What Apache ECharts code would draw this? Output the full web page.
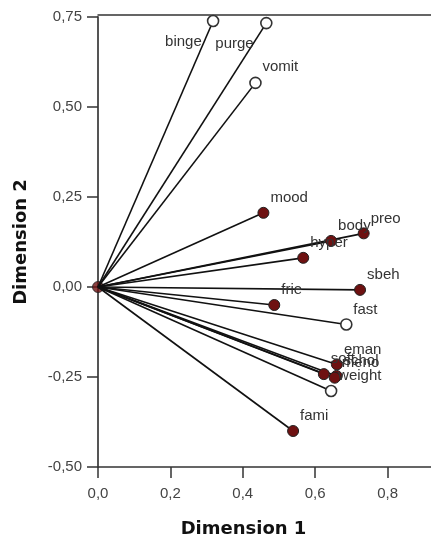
<!DOCTYPE html>
<html>
<head>
<meta charset="utf-8">
<script src="https://cdn.jsdelivr.net/npm/echarts@6/dist/echarts.min.js"></script>
<style>
html,body{margin:0;padding:0;background:#fff;}
#chart{width:431px;height:537px;}
</style>
</head>
<body>
<div id="chart"></div>
<script>
// Variable names (categories)
const names = ['binge','purge','vomit','mood','preo','body','hyper','sbeh','frie','fast','eman','soft','schol','meno','weight','fami'];
// Dimension 1 coordinates
const dim1 = [0.318,0.465,0.435,0.457,0.734,0.644,0.567,0.724,0.487,0.686,0.660,0.624,0.659,0.654,0.644,0.539];
// Dimension 2 coordinates
const dim2 = [0.739,0.733,0.567,0.206,0.149,0.128,0.081,-0.008,-0.050,-0.104,-0.215,-0.242,-0.247,-0.252,-0.289,-0.400];
// Whether the point is drawn as an open circle
const openMark = [true,true,true,false,false,false,false,false,false,true,false,false,false,false,true,false];
// Axis ticks
const xTicks = [0.0,0.2,0.4,0.6,0.8];
const yTicks = [-0.50,-0.25,0.00,0.25,0.50,0.75];

// label offsets (style, not data)
const labelOffsets = {binge:[-48,21], purge:[-51,21], vomit:[7,-16]};
const defaultOffset = [7,-15];

const FONT = '"Liberation Sans", Arial, sans-serif';
const RED = '#6e1111';

const series = [];
// origin point
series.push({
  type:'scatter', xAxisIndex:0, yAxisIndex:0, data:[[0,0]], symbolSize:11, z:1,
  itemStyle:{color:RED, borderColor:'#222', borderWidth:1}, silent:true
});
names.forEach((n,i)=>{
  series.push({
    type:'line', xAxisIndex:0, yAxisIndex:0, data:[[0,0],[dim1[i],dim2[i]]],
    symbol:'none', lineStyle:{color:'#111', width:1.6}, z:2, silent:true, animation:false
  });
});
function pointData(open){
  const out=[];
  names.forEach((n,i)=>{
    if(openMark[i]!==open) return;
    out.push({name:n, value:[dim1[i],dim2[i]], label:{offset: labelOffsets[n]||defaultOffset}});
  });
  return out;
}
const lbl = {show:true, position:'inside', align:'left', verticalAlign:'middle', formatter:'{b}',
  fontFamily:FONT, fontSize:15, color:'#333'};
series.push({
  type:'scatter', data:pointData(false), symbolSize:11, z:3,
  itemStyle:{color:RED, borderColor:'#222', borderWidth:1, opacity:1}, label:lbl, animation:false
});
series.push({
  type:'scatter', data:pointData(true), symbolSize:11, z:3,
  itemStyle:{color:'#fff', borderColor:'#333', borderWidth:1.6, opacity:1}, label:lbl, animation:false
});

const chart = echarts.init(document.getElementById('chart'), null, {renderer:'canvas'});
chart.setOption({
  animation:false,
  backgroundColor:'#fff',
  grid:{left:98, right:0, top:17, bottom:70, containLabel:false, outerBoundsMode:'none'},
  xAxis:[{
    type:'value', min:0, max:0.92, interval:0.2, position:'bottom',
    name:'Dimension 1', nameLocation:'middle', nameGap:53,
    nameTextStyle:{fontFamily:'"DejaVu Sans", sans-serif', fontWeight:'bold', fontSize:18, color:'#111', padding:[0,42,0,0]},
    axisLine:{show:true, onZero:false, lineStyle:{color:'#333', width:1.5}},
    axisTick:{show:true, length:11, lineStyle:{color:'#333', width:1.5}},
    axisLabel:{fontFamily:FONT, fontSize:15, color:'#444', margin:19, showMaxLabel:false,
      formatter:v=>{const t=xTicks.find(k=>Math.abs(k-v)<1e-6);return t===undefined?'':t.toFixed(1).replace('.',',');}},
    splitLine:{show:false}
  },{
    type:'value', min:0, max:0.92, position:'top', offset:2,
    axisLine:{show:true, onZero:false, lineStyle:{color:'#333', width:1.5}},
    axisTick:{show:false}, axisLabel:{show:false}, splitLine:{show:false}
  }],
  yAxis:{
    type:'value', min:-0.5, max:0.75, interval:0.25,
    name:'Dimension 2', nameLocation:'middle', nameGap:68, nameRotate:90,
    nameTextStyle:{fontFamily:'"DejaVu Sans", sans-serif', fontWeight:'bold', fontSize:18, color:'#111'},
    axisLine:{show:true, onZero:false, lineStyle:{color:'#555', width:2}},
    axisTick:{show:true, length:11, lineStyle:{color:'#333', width:1.5}},
    axisLabel:{fontFamily:FONT, fontSize:15, color:'#444', margin:16,
      formatter:v=>{const t=yTicks.find(k=>Math.abs(k-v)<1e-6);return t===undefined?'':t.toFixed(2).replace('.',',');}},
    splitLine:{show:false}
  },
  series:series
});
</script>
</body>
</html>
